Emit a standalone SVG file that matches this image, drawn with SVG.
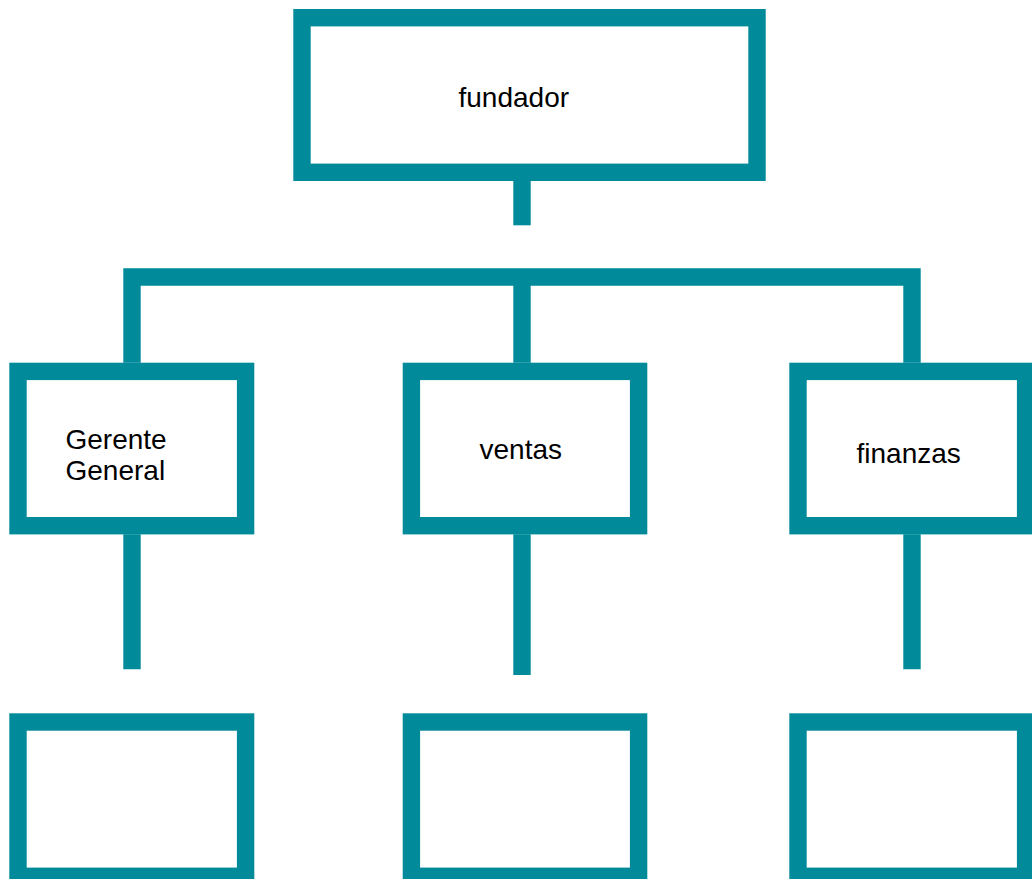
<svg xmlns="http://www.w3.org/2000/svg" width="1032" height="879" viewBox="0 0 1032 879">
<style>
.box{fill:#ffffff;stroke:#018B9A;stroke-width:17.4}
.ln{fill:none;stroke:#018B9A;stroke-width:17.4;stroke-linejoin:miter;stroke-linecap:butt}
.t{font-family:"Liberation Sans",Arial,sans-serif;font-size:28px;fill:#000000}
</style>
<rect width="1032" height="879" fill="#ffffff"/>
<g id="connectors">
<line class="ln" x1="522" y1="181" x2="522" y2="225.3"/>
<polyline class="ln" points="132,362.7 132,277 912,277 912,362.7"/>
<line class="ln" x1="522" y1="277" x2="522" y2="362.7"/>
<line class="ln" x1="132" y1="534.3" x2="132" y2="669.3"/>
<line class="ln" x1="522" y1="534.3" x2="522" y2="675"/>
<line class="ln" x1="912" y1="534.3" x2="912" y2="669.3"/>
</g>
<g id="fundador">
<rect class="box" x="302" y="17.7" width="455" height="154.6"/>
<text class="t" x="458.5" y="106.5">fundador</text>
</g>
<g id="gerente">
<rect class="box" x="18" y="371.4" width="227.6" height="154.3"/>
<text class="t" x="65.5" y="449">Gerente</text>
<text class="t" x="65.5" y="480">General</text>
</g>
<g id="ventas">
<rect class="box" x="411.4" y="371.4" width="227.2" height="154.3"/>
<text class="t" x="479.5" y="459.3">ventas</text>
</g>
<g id="finanzas">
<rect class="box" x="798" y="371.4" width="227.6" height="154.3"/>
<text class="t" x="856.5" y="462.7">finanzas</text>
</g>
<g id="sub1">
<rect class="box" x="18" y="722" width="227.6" height="154.3"/>
</g>
<g id="sub2">
<rect class="box" x="411.4" y="722" width="227.2" height="154.3"/>
</g>
<g id="sub3">
<rect class="box" x="798" y="722" width="227.6" height="154.3"/>
</g>
</svg>
